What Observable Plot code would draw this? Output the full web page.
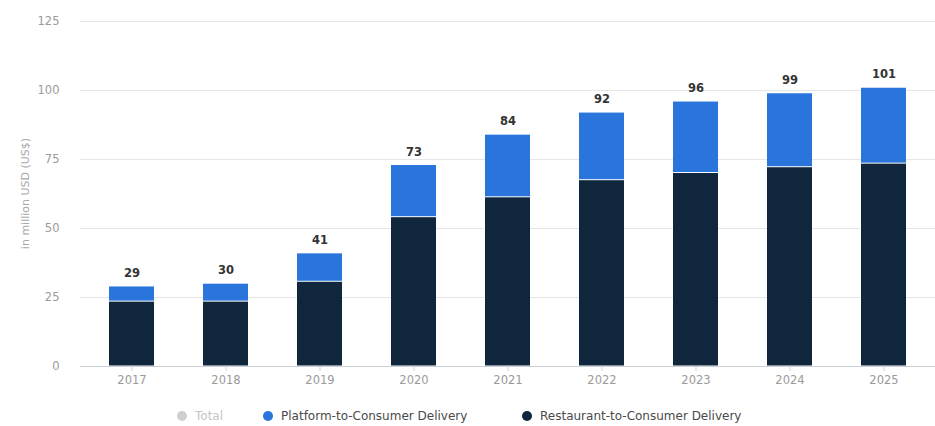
<!DOCTYPE html>
<html>
<head>
<meta charset="utf-8">
<script src="https://cdn.jsdelivr.net/npm/d3@7"></script>
<script src="https://cdn.jsdelivr.net/npm/@observablehq/plot@0.6"></script>
<style>
  html, body { margin: 0; padding: 0; background: #fff; }
  body { width: 935px; height: 426px; overflow: hidden; font-family: "DejaVu Sans", sans-serif; }
  #chart { position: relative; width: 935px; height: 395px; }
  #legend { position: relative; width: 935px; height: 31px; font-size: 12px; }
  .item { position: absolute; top: 14px; display: flex; align-items: center; white-space: nowrap; color: #4a4a4a; }
  .dot { width: 10px; height: 10px; border-radius: 50%; margin-right: 8px; }
</style>
</head>
<body>
<div id="chart"></div>
<div id="legend"></div>
<script>
const years = ["2017", "2018", "2019", "2020", "2021", "2022", "2023", "2024", "2025"];
const restaurant = [23.5, 23.5, 30.7, 54.1, 61.3, 67.5, 70.1, 72.2, 73.5];
const platform = [5.5, 6.5, 10.3, 18.9, 22.7, 24.5, 25.9, 26.8, 27.5];
const totals = [29, 30, 41, 73, 84, 92, 96, 99, 101];
const yTicks = [0, 25, 50, 75, 100, 125];
const seriesNames = ["Restaurant-to-Consumer Delivery", "Platform-to-Consumer Delivery"];
const seriesColors = ["#10263d", "#2a75dc"];
const legendNames = ["Total", "Platform-to-Consumer Delivery", "Restaurant-to-Consumer Delivery"];
const legendColors = ["#cfcfcf", "#2a75dc", "#10263d"];
const yLabel = "in million USD (US$)";

const rows = [];
years.forEach((y, i) => {
  rows.push({year: y, series: seriesNames[0], value: restaurant[i]});
  rows.push({year: y, series: seriesNames[1], value: platform[i]});
});
const totalRows = years.map((y, i) => ({year: y, total: totals[i], top: restaurant[i] + platform[i]}));

const chart = Plot.plot({
  width: 935,
  height: 395,
  marginTop: 21,
  marginBottom: 29,
  marginLeft: 80,
  marginRight: 0,
  style: {fontFamily: "DejaVu Sans, sans-serif", fontSize: "12px", background: "#fff"},
  x: {domain: years, paddingInner: 0.52, paddingOuter: 0.3, label: null},
  y: {domain: [0, 125], label: null},
  color: {domain: seriesNames, range: seriesColors},
  marks: [
    Plot.gridY(yTicks, {stroke: "#e6e6e6", strokeOpacity: 1}),
    Plot.axisY(yTicks, {tickSize: 0, tickPadding: 21, fill: "#9a9a9a", fontSize: 11.5, label: null}),
    Plot.barY(rows, Plot.stackY({
      x: "year", y: "value", fill: "series", order: seriesNames,
      insetTop: 0.5, insetBottom: 0.5
    })),
    Plot.ruleY([0], {stroke: "#c9d0d8"}),
    Plot.axisX({tickSize: 5, tickPadding: 4, stroke: "#d0d0d0", fill: "#9a9a9a", fontSize: 11.5, label: null}),
    Plot.text(totalRows, {x: "year", y: "top", text: d => String(d.total), dy: -13, fill: "#333", fontWeight: 600, fontSize: 11.5})
  ]
});
document.getElementById("chart").appendChild(chart);

// y-axis title
d3.select(chart).append("text")
  .attr("transform", "translate(26,193.5) rotate(-90)")
  .attr("text-anchor", "middle")
  .attr("dominant-baseline", "middle")
  .attr("fill", "#a8a8a8")
  .attr("font-size", 11)
  .text(yLabel);

// legend
const legendX = [177, 263, 522];
const legend = document.getElementById("legend");
legendNames.forEach((name, i) => {
  const item = document.createElement("div");
  item.className = "item";
  item.style.left = legendX[i] + "px";
  if (i === 0) item.style.color = "#c4c4c4";
  const dot = document.createElement("span");
  dot.className = "dot";
  dot.style.background = legendColors[i];
  item.appendChild(dot);
  const t = document.createElement("span");
  t.textContent = name;
  item.appendChild(t);
  legend.appendChild(item);
});
</script>
</body>
</html>
